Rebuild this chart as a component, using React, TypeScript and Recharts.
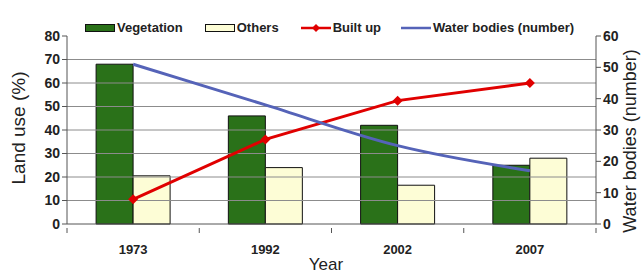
import * as React from 'react';
import {
  ComposedChart,
  Bar,
  Line,
  XAxis,
  YAxis,
  Legend,
  ReferenceLine,
} from 'recharts';

// ============================================================================
// Data
// ============================================================================

const years = ['1973', '1992', '2002', '2007'];
const vegetation = [68, 46, 42, 25];
const others = [20.5, 24, 16.5, 28];
const builtUp = [10.5, 36, 52.5, 60];
const waterBodies = [51, 38, 25, 17];

const leftTicks = [0, 10, 20, 30, 40, 50, 60, 70, 80];
const rightTicks = [0, 10, 20, 30, 40, 50, 60];
const gridLevels = [10, 20, 30, 40, 50, 60, 70];

const data = years.map((year, i) => ({
  year,
  vegetation: vegetation[i],
  others: others[i],
  builtUp: builtUp[i],
  water: waterBodies[i],
}));

// ============================================================================
// Layout
// ============================================================================

const WIDTH = 644;
const HEIGHT = 273;
const LEFT = 67;
const RIGHT_W = 48;
const PLOT_W = WIDTH - LEFT - RIGHT_W;
const BAND = PLOT_W / years.length;

const FONT = 'Arial, "Liberation Sans", sans-serif';
const GREEN = '#2a7119';
const CREAM = '#fdfdd6';
const RED = '#e00000';
const BLUE = '#5563b8';
const AXIS = '#555555';

// ============================================================================
// Helpers
// ============================================================================

function YearTick(props: any) {
  const { x, y, payload, index } = props;
  const last = index === years.length - 1;
  return (
    <g>
      <line x1={x - BAND / 2} x2={x - BAND / 2} y1={y - 4} y2={y + 1} stroke={AXIS} />
      {last && (
        <line x1={x + BAND / 2} x2={x + BAND / 2} y1={y - 4} y2={y + 1} stroke={AXIS} />
      )}
      <text
        x={x}
        y={y + 22}
        textAnchor="middle"
        fontFamily={FONT}
        fontWeight="bold"
        fontSize={13}
        fill="#222"
      >
        {payload.value}
      </text>
    </g>
  );
}

function Diamond(props: any) {
  const { cx, cy } = props;
  if (cx == null || cy == null) return null;
  return (
    <path
      d={`M${cx},${cy - 5}L${cx + 5},${cy}L${cx},${cy + 5}L${cx - 5},${cy}Z`}
      fill={RED}
    />
  );
}

function AxisTitle({ x, y, text, size, rotate }: any) {
  return (
    <text
      x={x}
      y={y}
      textAnchor="middle"
      dominantBaseline={rotate ? 'central' : 'auto'}
      transform={rotate ? `rotate(-90, ${x}, ${y})` : undefined}
      fontFamily={FONT}
      fontSize={size}
      fill="#222"
    >
      {text}
    </text>
  );
}

function LegendContent() {
  const text = {
    fontFamily: FONT,
    fontWeight: 'bold' as const,
    fontSize: 13,
    color: '#222',
  };
  const box = (fill: string) => (
    <svg width={30} height={10} style={{ marginRight: 2 }}>
      <rect x={0.5} y={1.5} width={29} height={7} fill={fill} stroke="#111" />
    </svg>
  );
  const line = (stroke: string, marker: boolean) => (
    <svg width={30} height={10} style={{ marginRight: 2 }}>
      <line x1={0} x2={30} y1={5} y2={5} stroke={stroke} strokeWidth={2.5} />
      {marker && <path d="M15,1L19,5L15,9L11,5Z" fill={stroke} />}
    </svg>
  );
  return (
    <div style={{ display: 'flex', alignItems: 'center', ...text }}>
      {box(GREEN)}
      <span style={{ marginRight: 22 }}>Vegetation</span>
      {box(CREAM)}
      <span style={{ marginRight: 22 }}>Others</span>
      {line(RED, true)}
      <span style={{ marginRight: 20 }}>Built up</span>
      {line(BLUE, false)}
      <span>Water bodies (number)</span>
    </div>
  );
}

// ============================================================================
// Component
// ============================================================================

export default function App() {
  return (
    <div style={{ position: 'absolute', left: 0, top: 0, background: '#fff' }}>
      <ComposedChart
        width={WIDTH}
        height={HEIGHT}
        data={data}
        margin={{ top: 21, right: 0, left: 0, bottom: 0 }}
        barCategoryGap="22%"
        barGap={0}
      >
        {gridLevels.map((v) => (
          <ReferenceLine key={v} yAxisId="left" y={v} stroke="#8c8c8c" strokeWidth={1} />
        ))}
        <XAxis
          dataKey="year"
          height={49}
          stroke={AXIS}
          tickLine={false}
          tick={<YearTick />}
          interval={0}
          label={{
            content: () => <AxisTitle x={326} y={270} text="Year" size={17} />,
          }}
        />
        <YAxis
          yAxisId="left"
          domain={[0, 80]}
          ticks={leftTicks}
          interval={0}
          width={LEFT}
          stroke={AXIS}
          tickSize={5}
          tick={{ fontFamily: FONT, fontWeight: 'bold', fontSize: 14, fill: '#222' }}
          label={{
            content: () => (
              <AxisTitle x={18} y={128} text="Land use (%)" size={19} rotate />
            ),
          }}
        />
        <YAxis
          yAxisId="right"
          orientation="right"
          domain={[0, 60]}
          ticks={rightTicks}
          interval={0}
          width={RIGHT_W}
          stroke={AXIS}
          tickSize={5}
          tick={{ fontFamily: FONT, fontWeight: 'bold', fontSize: 14, fill: '#222' }}
          label={{
            content: () => (
              <AxisTitle x={630} y={141} text="Water bodies (number)" size={18} rotate />
            ),
          }}
        />
        <Legend
          content={<LegendContent />}
          verticalAlign="top"
          wrapperStyle={{ position: 'absolute', top: 20, left: 85, width: 'auto' }}
        />
        <Bar
          yAxisId="left"
          dataKey="vegetation"
          fill={GREEN}
          stroke="#111"
          strokeWidth={1}
          isAnimationActive={false}
        />
        <Bar
          yAxisId="left"
          dataKey="others"
          fill={CREAM}
          stroke="#111"
          strokeWidth={1}
          isAnimationActive={false}
        />
        <Line
          yAxisId="left"
          type="linear"
          dataKey="builtUp"
          stroke={RED}
          strokeWidth={3}
          dot={<Diamond />}
          activeDot={false}
          isAnimationActive={false}
        />
        <Line
          yAxisId="right"
          type="monotone"
          dataKey="water"
          stroke={BLUE}
          strokeWidth={3}
          dot={false}
          activeDot={false}
          isAnimationActive={false}
        />
      </ComposedChart>
    </div>
  );
}
